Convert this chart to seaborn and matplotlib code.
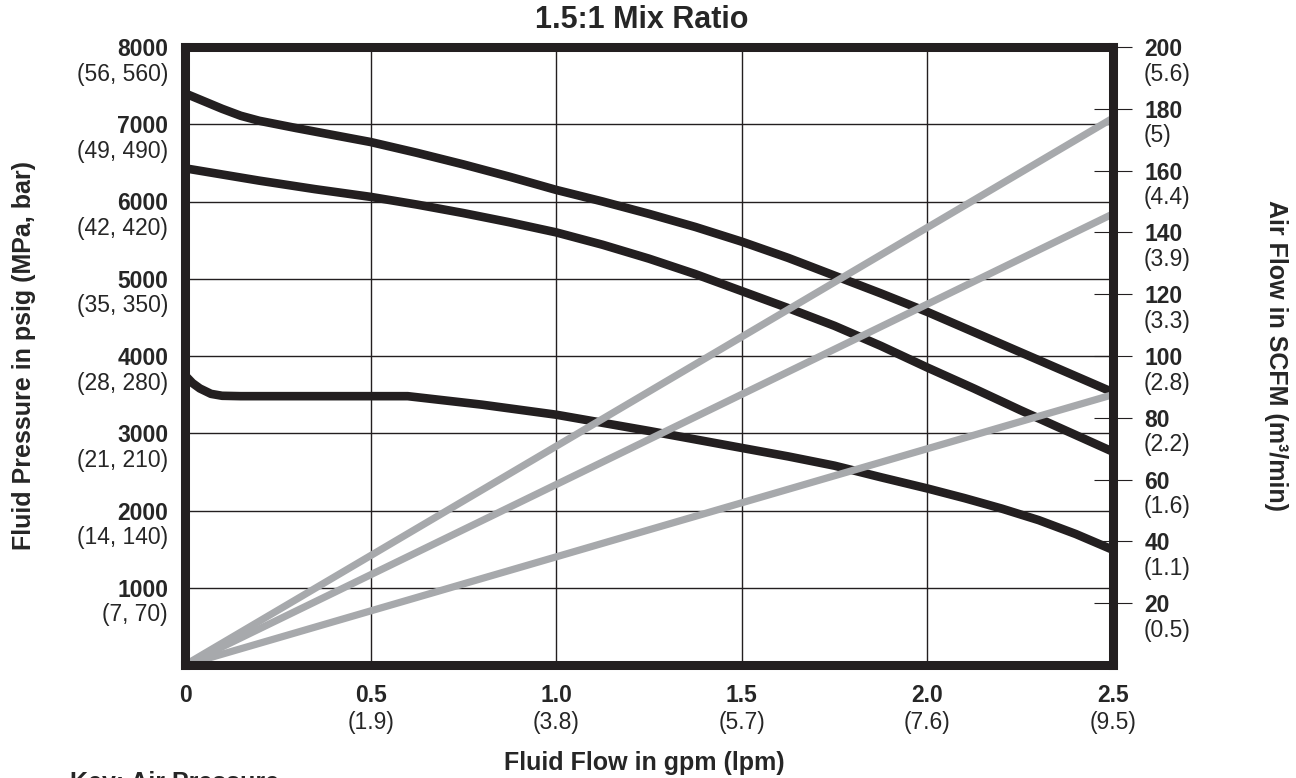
import matplotlib
matplotlib.use("Agg")
import matplotlib.pyplot as plt
import seaborn as sns

# Fluid pressure curves (psig) vs fluid flow (gpm)
flow_hi = [0, 0.05, 0.1, 0.15, 0.2, 0.3, 0.4, 0.5, 0.625, 0.75, 0.875, 1.0, 1.125,
           1.25, 1.375, 1.5, 1.625, 1.75, 1.875, 2.0, 2.125, 2.25, 2.375, 2.5]
psi_hi = [7400, 7300, 7200, 7110, 7045, 6950, 6860, 6770, 6630, 6480, 6320, 6150, 6000,
          5840, 5670, 5480, 5270, 5040, 4810, 4570, 4310, 4050, 3790, 3530]

flow_mid = [0, 0.1, 0.2, 0.35, 0.5, 0.625, 0.75, 0.875, 1.0, 1.125, 1.25, 1.375,
            1.5, 1.625, 1.75, 1.875, 2.0, 2.125, 2.25, 2.375, 2.5]
psi_mid = [6430, 6350, 6270, 6160, 6060, 5960, 5850, 5730, 5600, 5440, 5260, 5060,
           4840, 4620, 4390, 4130, 3850, 3580, 3300, 3030, 2760]

flow_lo = [0, 0.02, 0.04, 0.07, 0.1, 0.15, 0.6, 0.8, 1.0, 1.25, 1.5, 1.625, 1.75,
           1.875, 2.0, 2.1, 2.2, 2.3, 2.4, 2.5]
psi_lo = [3750, 3650, 3580, 3510, 3485, 3480, 3480, 3370, 3240, 3030, 2810, 2700, 2580,
          2430, 2285, 2160, 2025, 1875, 1695, 1490]

# Air flow lines (SCFM), straight from the origin
air_flow = [0, 2.5]
scfm_hi = [0, 177]
scfm_mid = [0, 146]
scfm_lo = [0, 87.5]

# Tick labels
x_ticks = [0, 0.5, 1.0, 1.5, 2.0, 2.5]
x_labels = ["0", "0.5", "1.0", "1.5", "2.0", "2.5"]
x_metric = ["", "(1.9)", "(3.8)", "(5.7)", "(7.6)", "(9.5)"]

psi_ticks = [1000, 2000, 3000, 4000, 5000, 6000, 7000, 8000]
psi_metric = ["(7, 70)", "(14, 140)", "(21, 210)", "(28, 280)",
              "(35, 350)", "(42, 420)", "(49, 490)", "(56, 560)"]

scfm_ticks = [20, 40, 60, 80, 100, 120, 140, 160, 180, 200]
scfm_metric = ["(0.5)", "(1.1)", "(1.6)", "(2.2)", "(2.8)",
               "(3.3)", "(3.9)", "(4.4)", "(5)", "(5.6)"]

dark = "#231f20"
grey = "#a7a9ac"
fs = 16.5

sns.set_style("white")
plt.rcParams["font.family"] = ["Liberation Sans", "DejaVu Sans"]

W, H = 1296, 778
fig = plt.figure(figsize=(W / 100, H / 100), dpi=100)
ax = fig.add_axes([185 / W, 1 - 665 / H, 928 / W, 618 / H])
ax.set_xlim(0, 2.5)
ax.set_ylim(0, 8000)
ax.set_xticks(x_ticks)
ax.set_yticks(psi_ticks)
ax.grid(True, color=dark, lw=1.0)
ax.set_axisbelow(True)
for s in ax.spines.values():
    s.set_visible(False)

# Pressure curves
for fx, fy in [(flow_hi, psi_hi), (flow_mid, psi_mid), (flow_lo, psi_lo)]:
    sns.lineplot(x=fx, y=fy, ax=ax, color=dark, lw=6.2, zorder=3,
                 solid_capstyle="butt", solid_joinstyle="round")

ax.set_xticklabels(x_labels, fontsize=fs, fontweight="bold")
ax.set_yticklabels([str(v) for v in psi_ticks], fontsize=fs, fontweight="bold")
ax.tick_params(axis="both", length=0)
ax.tick_params(axis="x", pad=21.6)
ax.tick_params(axis="y", pad=12)
for t in ax.get_xticklabels():
    t.set_va("center")
ax.set_xlabel("")
ax.set_ylabel("")

for v, lab in zip(psi_ticks, psi_metric):
    ax.annotate(lab, xy=(0, v), xycoords=("axes fraction", "data"),
                xytext=(-12.2, -19.5), textcoords="offset points",
                ha="right", va="center", fontsize=fs)
for v, lab in zip(x_ticks, x_metric):
    if lab:
        ax.annotate(lab, xy=(v, 0), xycoords=("data", "axes fraction"),
                    xytext=(0, -41.5), textcoords="offset points",
                    ha="center", va="center", fontsize=fs)

# Air flow on the right axis
ax2 = ax.twinx()
ax2.set_ylim(0, 200)
ax2.set_yticks(scfm_ticks)
for fx, fy in [(air_flow, scfm_hi), (air_flow, scfm_mid), (air_flow, scfm_lo)]:
    sns.lineplot(x=fx, y=fy, ax=ax2, color=grey, lw=5.2, solid_capstyle="butt")
ax2.set_ylabel("")
ax2.set_yticklabels([str(v) for v in scfm_ticks], fontsize=fs, fontweight="bold")
ax2.tick_params(axis="y", direction="inout", length=27.4, width=0.8,
                color=dark, pad=8.8, right=True)
for s in ax2.spines.values():
    s.set_visible(True)
    s.set_color(dark)
    s.set_linewidth(6.5)

for v, lab in zip(scfm_ticks, scfm_metric):
    ax2.annotate(lab, xy=(1, v), xycoords=("axes fraction", "data"),
                 xytext=(22.3, -19.5), textcoords="offset points",
                 ha="left", va="center", fontsize=fs)

fig.text(642 / W, 1 - 20 / H, "1.5:1 Mix Ratio", ha="center", va="center",
         fontsize=22, fontweight="bold")
fig.text(644 / W, 1 - 763 / H, "Fluid Flow in gpm (lpm)", ha="center", va="center",
         fontsize=18, fontweight="bold")
fig.text(24 / W, 1 - 355 / H, "Fluid Pressure in psig (MPa, bar)", ha="center",
         va="center", rotation=90, fontsize=18, fontweight="bold")
fig.text(1276 / W, 1 - 355 / H, "Air Flow in SCFM (m\u00b3/min)", ha="center",
         va="center", rotation=270, fontsize=18, fontweight="bold")
# legend key runs off the bottom edge, as in the original
fig.text(70 / W, 1 - 771 / H, "Key: Air Pressure", ha="left", va="top",
         fontsize=18, fontweight="bold")

fig.savefig("out.png", dpi=100)
